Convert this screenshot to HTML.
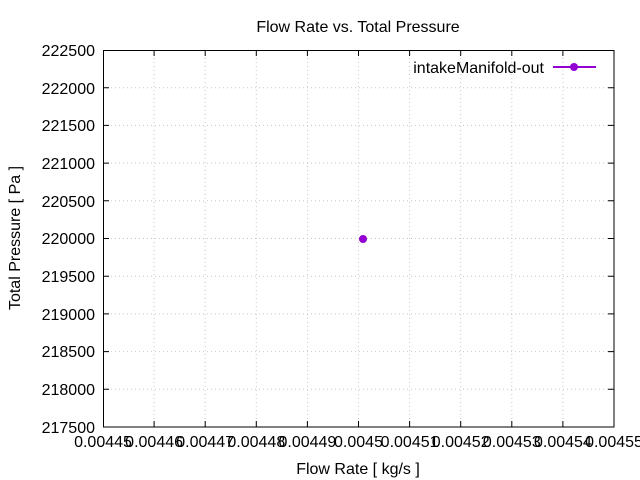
<!DOCTYPE html>
<html><head><style>body{margin:0;background:#fff}svg{display:block}text{font-family:"Liberation Sans",sans-serif;font-size:16px;fill:#000}</style></head>
<body>
<svg width="640" height="480" xmlns="http://www.w3.org/2000/svg">
<rect width="640" height="480" fill="#fff"/>
<g stroke="#c8c8c8" stroke-width="1" stroke-dasharray="1,3">
<line x1="154.1" y1="50" x2="154.1" y2="427"/><line x1="205.2" y1="50" x2="205.2" y2="427"/><line x1="256.3" y1="50" x2="256.3" y2="427"/><line x1="307.4" y1="50" x2="307.4" y2="427"/><line x1="358.5" y1="50" x2="358.5" y2="427"/><line x1="409.6" y1="50" x2="409.6" y2="427"/><line x1="460.7" y1="50" x2="460.7" y2="427"/><line x1="511.8" y1="50" x2="511.8" y2="427"/><line x1="562.9" y1="50" x2="562.9" y2="427"/>
<line x1="103" y1="87.7" x2="614" y2="87.7"/><line x1="103" y1="125.4" x2="614" y2="125.4"/><line x1="103" y1="163.1" x2="614" y2="163.1"/><line x1="103" y1="200.8" x2="614" y2="200.8"/><line x1="103" y1="238.5" x2="614" y2="238.5"/><line x1="103" y1="276.2" x2="614" y2="276.2"/><line x1="103" y1="313.9" x2="614" y2="313.9"/><line x1="103" y1="351.6" x2="614" y2="351.6"/><line x1="103" y1="389.3" x2="614" y2="389.3"/>
</g>
<rect x="103.5" y="50.5" width="510.5" height="376.5" fill="none" stroke="#000"/>
<g stroke="#000">
<path d="M103 87.7h6M103 125.4h6M103 163.1h6M103 200.8h6M103 238.5h6M103 276.2h6M103 313.9h6M103 351.6h6M103 389.3h6M614 87.7h-6M614 125.4h-6M614 163.1h-6M614 200.8h-6M614 238.5h-6M614 276.2h-6M614 313.9h-6M614 351.6h-6M614 389.3h-6"/>
<path d="M154.1 427v-6M205.2 427v-6M256.3 427v-6M307.4 427v-6M358.5 427v-6M409.6 427v-6M460.7 427v-6M511.8 427v-6M562.9 427v-6M154.1 50v6M205.2 50v6M256.3 50v6M307.4 50v6M358.5 50v6M409.6 50v6M460.7 50v6M511.8 50v6M562.9 50v6"/>
</g>
<g text-anchor="end">
<text x="95" y="56">222500</text><text x="95" y="94">222000</text><text x="95" y="131">221500</text><text x="95" y="169">221000</text><text x="95" y="207">220500</text><text x="95" y="244">220000</text><text x="95" y="282">219500</text><text x="95" y="320">219000</text><text x="95" y="357">218500</text><text x="95" y="395">218000</text><text x="95" y="433">217500</text>
</g>
<g text-anchor="middle">
<text x="103" y="447">0.00445</text><text x="154.1" y="447">0.00446</text><text x="205.2" y="447">0.00447</text><text x="256.3" y="447">0.00448</text><text x="307.4" y="447">0.00449</text><text x="358.5" y="447">0.0045</text><text x="409.6" y="447">0.00451</text><text x="460.7" y="447">0.00452</text><text x="511.8" y="447">0.00453</text><text x="562.9" y="447">0.00454</text><text x="614" y="447">0.00455</text>
<text x="358" y="474">Flow Rate [ kg/s ]</text>
<text x="358" y="32">Flow Rate vs. Total Pressure</text>
<text transform="translate(20 238) rotate(-90)">Total Pressure [ Pa ]</text>
</g>
<text x="544" y="73" text-anchor="end">intakeManifold-out</text>
<line x1="553" y1="67" x2="596" y2="67" stroke="#9400d3" stroke-width="2"/>
<circle cx="574" cy="67" r="4" fill="#9400d3"/>
<circle cx="363" cy="239" r="4" fill="#9400d3"/>
</svg>
</body></html>
